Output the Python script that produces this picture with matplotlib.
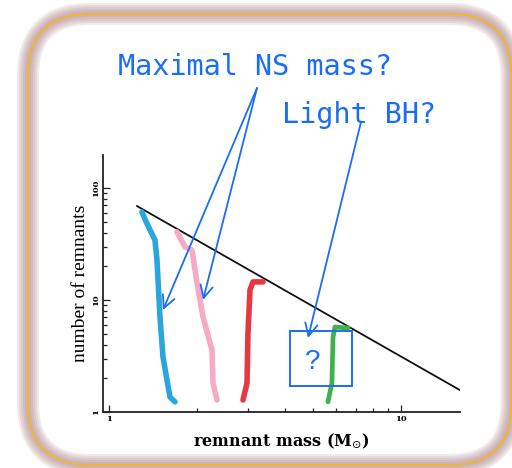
import numpy as np
import matplotlib
matplotlib.use("Agg")
import matplotlib.pyplot as plt
from matplotlib.patches import FancyBboxPatch, Rectangle
from matplotlib.ticker import LogLocator, NullFormatter, FixedFormatter, FixedLocator

# hand-drawn remnant tracks (remnant mass [Msun], number of remnants)
blue_x = [1.297, 1.340, 1.382, 1.437, 1.460, 1.495, 1.531, 1.580, 1.618, 1.683]
blue_y = [61.1, 50.0, 42.2, 34.3, 22.8, 7.05, 3.10, 1.93, 1.36, 1.23]
pink_x = [1.710, 1.821, 1.924, 2.002, 2.099, 2.253, 2.271, 2.344]
pink_y = [40.5, 29.7, 27.9, 14.2, 7.05, 3.58, 1.81, 1.28]
red_x = [2.877, 2.969, 2.992, 3.040, 3.113, 3.369]
red_y = [1.28, 1.81, 5.07, 12.3, 14.5, 14.5]
green_x = [5.62, 5.80, 5.85, 5.94, 6.59]
green_y = [1.23, 1.81, 4.67, 5.74, 5.62]

# envelope line
env_x = [1.247, 15.9]
env_y = [69.0, 1.57]

# "?" box for light black holes
box_x = [4.17, 6.80]
box_y = [1.71, 5.29]
q_pos = (4.99, 2.79)

# arrow targets
ns_targets = [(1.531, 8.14), (2.099, 10.0)]
bh_target = (4.80, 4.58)

BLUE = "#1a6ef5"

fig = plt.figure(figsize=(5.12, 4.68), dpi=100)

# slide frame in pixel coordinates
bg = fig.add_axes([0, 0, 1, 1], zorder=0)
bg.set_xlim(0, 512)
bg.set_ylim(468, 0)
bg.axis("off")
x0, y0, x1, y1 = 28, 14, 511.5, 465
rad = 62
frame = dict(boxstyle=f"round,pad=0,rounding_size={rad}")
bg.add_patch(FancyBboxPatch((x0, y0), x1 - x0, y1 - y0, fc="white", ec="none", **frame))
for w in [22, 18, 14, 10, 6]:
    bg.add_patch(FancyBboxPatch((x0, y0), x1 - x0, y1 - y0, fc="none", ec="#b0848c",
                                lw=w * 0.72, alpha=0.17, **frame))
bg.add_patch(FancyBboxPatch((x0, y0), x1 - x0, y1 - y0, fc="none", ec="#f4b816",
                            lw=1.2, **frame))

ax = fig.add_axes([103 / 512, 1 - 412 / 468, 357 / 512, 257 / 468], zorder=2)
ax.set_facecolor("none")
ax.set_xscale("log")
ax.set_yscale("log")
ax.set_xlim(0.954, 15.92)
ax.set_ylim(1, 197)

for s in ["top", "right"]:
    ax.spines[s].set_visible(False)
for s in ["left", "bottom"]:
    ax.spines[s].set_linewidth(1.3)
    ax.spines[s].set_color("#222222")

ax.xaxis.set_major_locator(FixedLocator([1, 10]))
ax.xaxis.set_major_formatter(FixedFormatter(["1", "10"]))
ax.xaxis.set_minor_locator(LogLocator(base=10, subs=np.arange(2, 10)))
ax.xaxis.set_minor_formatter(NullFormatter())
ax.yaxis.set_major_locator(FixedLocator([1, 10, 100]))
ax.yaxis.set_major_formatter(FixedFormatter(["1", "10", "100"]))
ax.yaxis.set_minor_locator(LogLocator(base=10, subs=np.arange(2, 10)))
ax.yaxis.set_minor_formatter(NullFormatter())
ax.tick_params(which="both", direction="in", color="#222222", width=0.9, pad=2)
ax.tick_params(which="major", length=5)
ax.tick_params(which="minor", length=3)
for lab in ax.get_xticklabels():
    lab.set_fontfamily("DejaVu Serif")
    lab.set_fontsize(6)
    lab.set_fontweight("bold")
for lab in ax.get_yticklabels():
    lab.set_fontfamily("DejaVu Serif")
    lab.set_fontsize(6)
    lab.set_fontweight("bold")
    lab.set_rotation(90)
    lab.set_va("center")

plt.rcParams["mathtext.fontset"] = "dejavuserif"
ax.set_xlabel("remnant mass (M$_{\\odot}$)", family="DejaVu Serif", fontsize=11.5,
              fontweight="bold", labelpad=6)
ax.set_ylabel("number of remnants", family="Liberation Serif", fontsize=14, labelpad=2)

ax.plot(env_x, env_y, color="#111111", lw=1.3)
ax.plot(blue_x, blue_y, color="#2aa6de", lw=4, solid_capstyle="round", solid_joinstyle="round")
ax.plot(pink_x, pink_y, color="#f8a9c5", lw=4, solid_capstyle="round", solid_joinstyle="round")
ax.plot(red_x, red_y, color="#e8383f", lw=4, solid_capstyle="round", solid_joinstyle="round")
ax.plot(green_x, green_y, color="#3fb24e", lw=3.4, solid_capstyle="round", solid_joinstyle="round")

ax.add_patch(Rectangle((box_x[0], box_y[0]), box_x[1] - box_x[0], box_y[1] - box_y[0],
                       fc="none", ec=BLUE, lw=1.4, zorder=4))
ax.text(*q_pos, "?", color=BLUE, fontsize=20, ha="center", va="center",
        family="Liberation Sans")

fig.text(255 / 512, 1 - 75 / 468, "Maximal NS mass?", color=BLUE, fontsize=20.5,
         family="DejaVu Sans Mono", ha="center", va="baseline")
fig.text(359 / 512, 1 - 123 / 468, "Light BH?", color=BLUE, fontsize=20.5,
         family="DejaVu Sans Mono", ha="center", va="baseline")

arrow = dict(arrowstyle="->,head_length=0.9,head_width=0.45", color=BLUE, lw=1.3,
             shrinkA=0, shrinkB=0)
for tx, ty in ns_targets:
    ax.annotate("", xy=(tx, ty), xycoords="data",
                xytext=(257 / 512, 1 - 88 / 468), textcoords="figure fraction",
                arrowprops=arrow, annotation_clip=False)
ax.annotate("", xy=bh_target, xycoords="data",
            xytext=(361 / 512, 1 - 122 / 468), textcoords="figure fraction",
            arrowprops=arrow, annotation_clip=False)

fig.savefig("out.png", dpi=100)
